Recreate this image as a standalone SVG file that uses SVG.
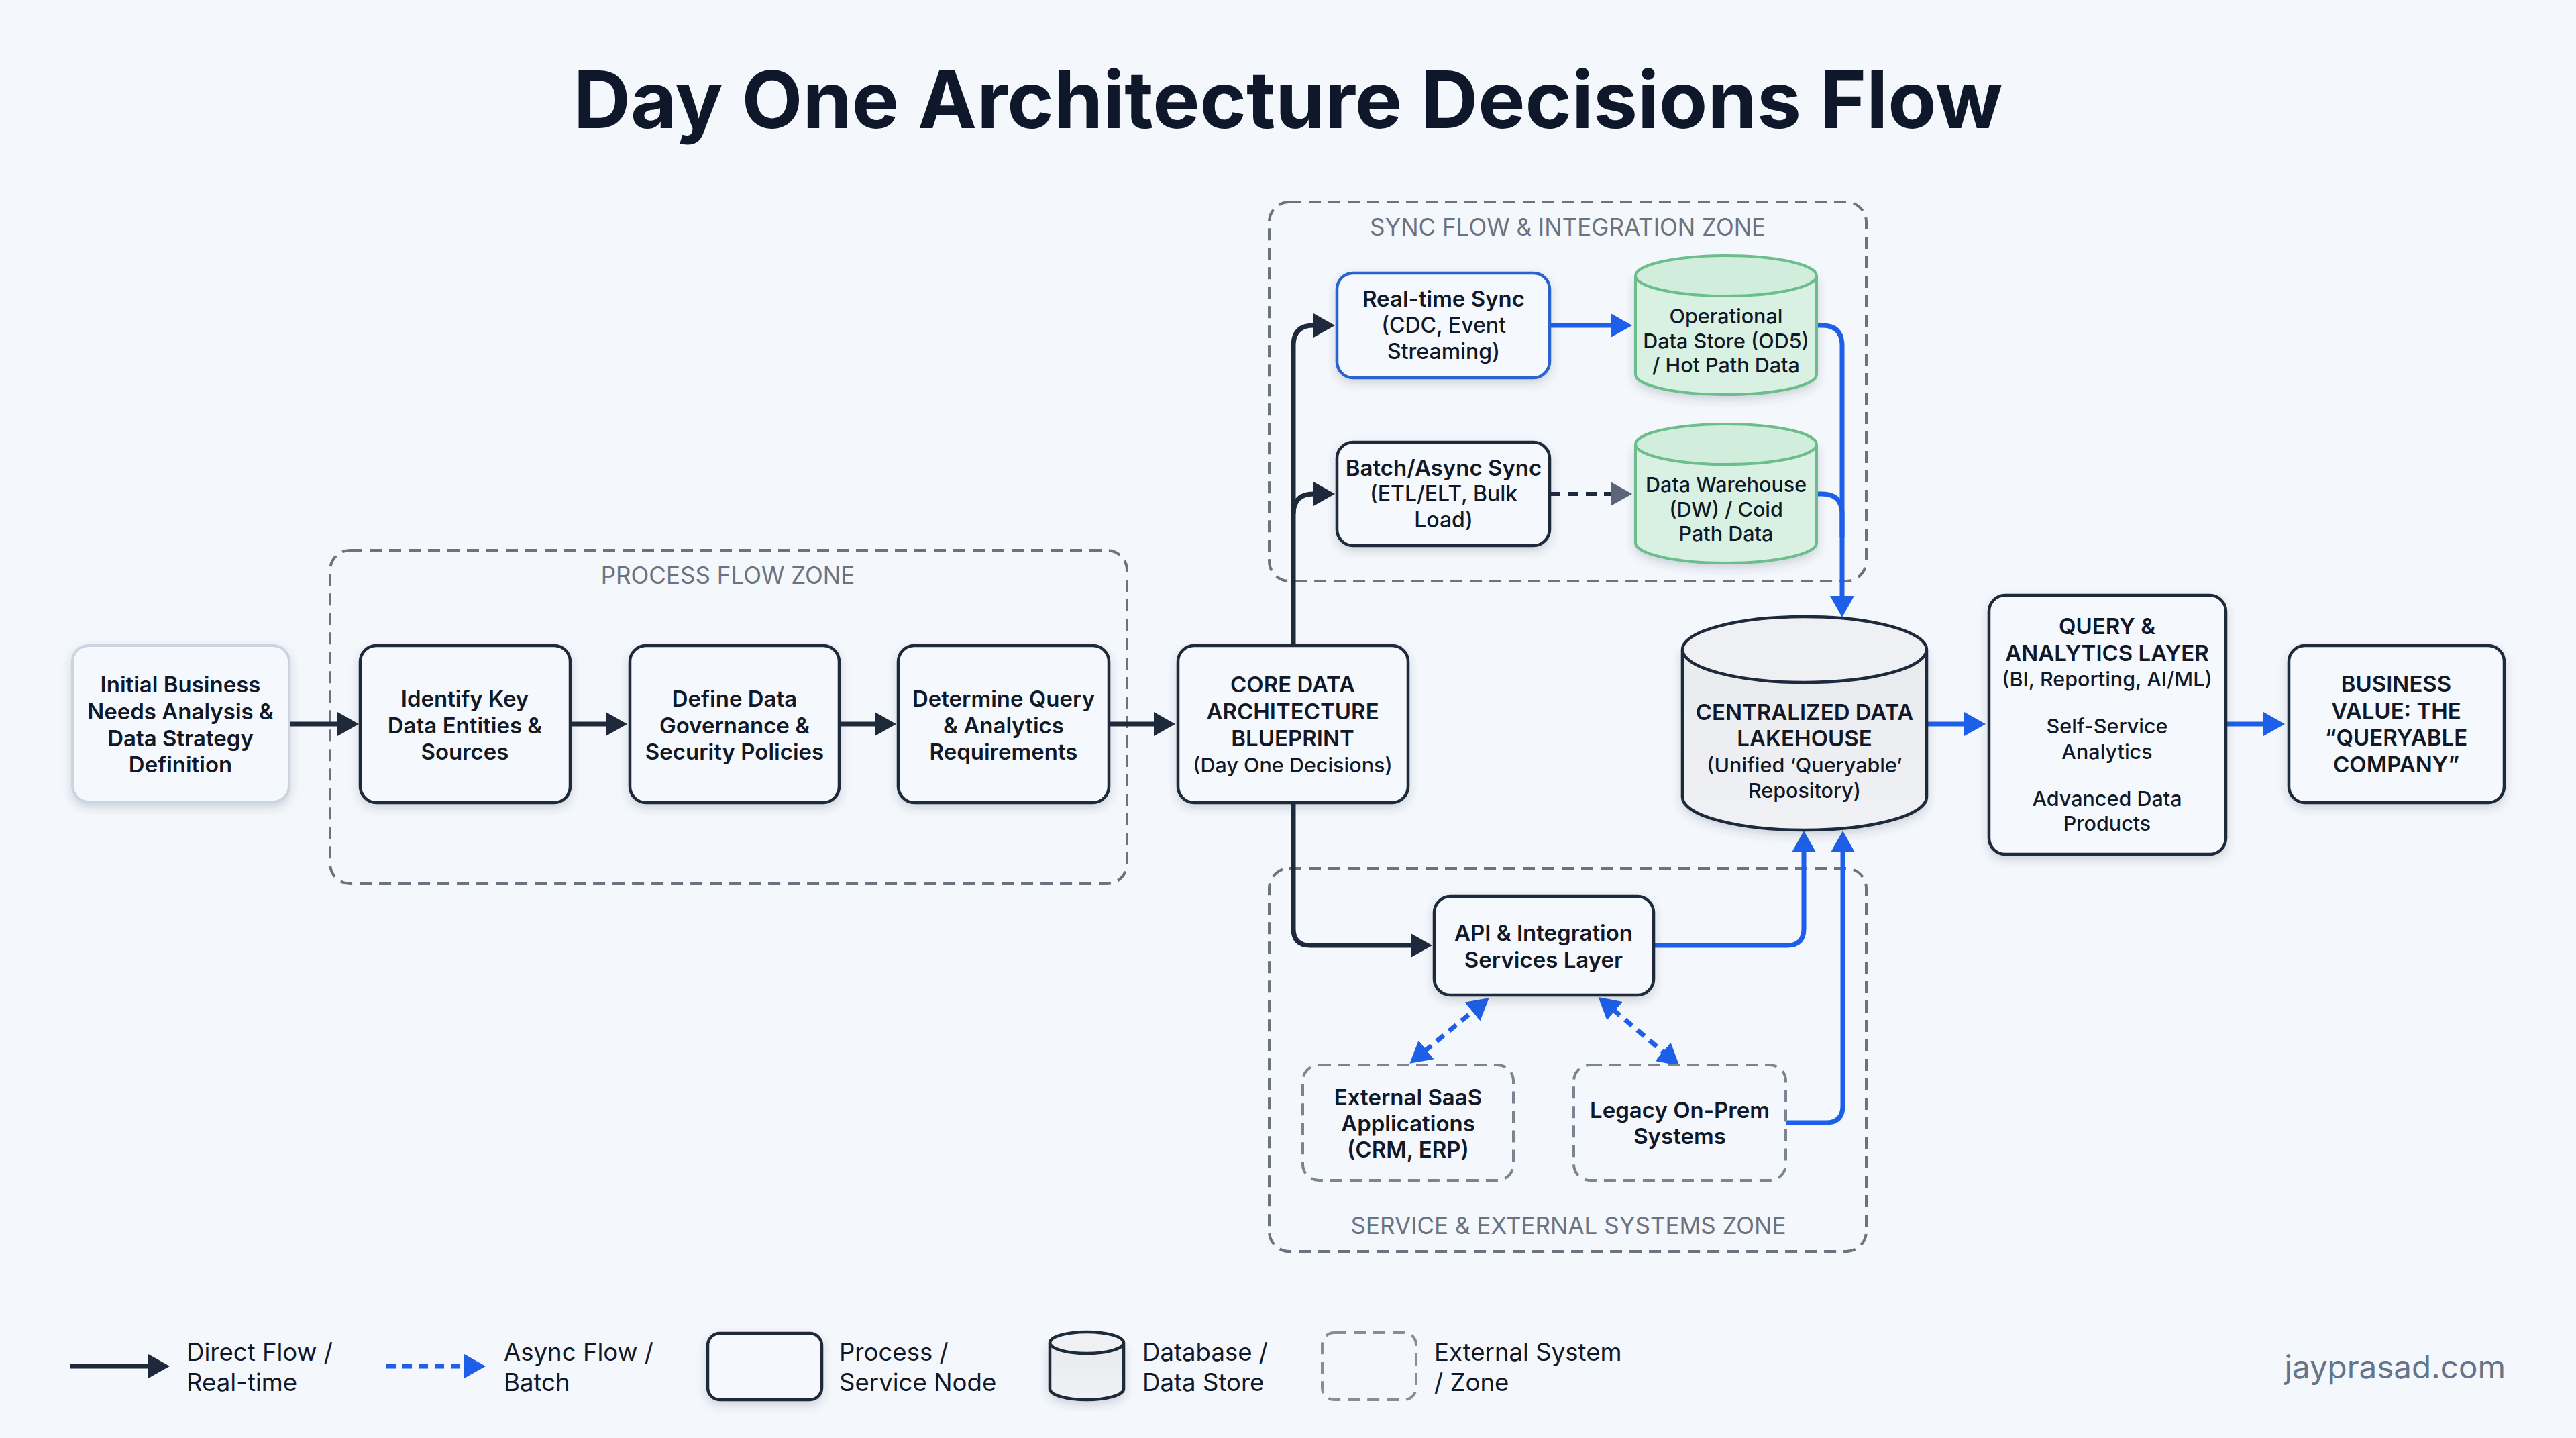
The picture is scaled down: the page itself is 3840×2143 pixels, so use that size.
<svg xmlns="http://www.w3.org/2000/svg" width="3840" height="2143" viewBox="0 0 3840 2143">
<style>
text{font-family:Inter,"Liberation Sans",sans-serif;text-anchor:middle;fill:#111827}
.b{font-size:33px;font-weight:600}
.m{font-size:32px;font-weight:500}
.c{font-size:30.5px;font-weight:500}
.s{font-size:30.5px;font-weight:500}
.zl{font-size:35px;font-weight:400;fill:#6b7280}
.lg{font-size:36.6px;font-weight:400;text-anchor:start}
.box{fill:#f5f8fc;stroke:#1e293b;stroke-width:4.5;filter:url(#sh)}
.zone{fill:none;stroke:#6b7280;stroke-width:4;stroke-dasharray:18 11}
.ext{fill:#f4f7fb;stroke:#7b8494;stroke-width:4;stroke-dasharray:18 11}
.gc{fill:#d8f1e2;stroke:#6cbd8c;stroke-width:4;filter:url(#sh)}
.gt{fill:#d1eedd;stroke:#6cbd8c;stroke-width:4}
.dc{fill:url(#lk);stroke:#1e293b;stroke-width:4.5;filter:url(#sh)}
.dt{fill:#eef0f3;stroke:#1e293b;stroke-width:4.5}
.k{fill:none;stroke:#1e293b;stroke-width:7}
.u{fill:none;stroke:#1d5fe8;stroke-width:7}
.ka{marker-end:url(#ak)}
.ua{marker-end:url(#au)}
</style>
<defs>
<filter id="sh" x="-15%" y="-15%" width="130%" height="135%"><feDropShadow dx="0" dy="6" stdDeviation="7" flood-color="#334155" flood-opacity="0.2"/></filter>
<linearGradient id="lk" x1="0" y1="0" x2="0" y2="1"><stop offset="0" stop-color="#e8ebee"/><stop offset="0.55" stop-color="#eceef2"/><stop offset="1" stop-color="#eff1f4"/></linearGradient>
<marker id="ak" markerUnits="userSpaceOnUse" viewBox="0 0 32 36" refX="4" refY="18" markerWidth="32" markerHeight="36" orient="auto-start-reverse"><path d="M0 0L32 18L0 36Z" fill="#1e293b"/></marker>
<marker id="au" markerUnits="userSpaceOnUse" viewBox="0 0 32 36" refX="4" refY="18" markerWidth="32" markerHeight="36" orient="auto-start-reverse"><path d="M0 0L32 18L0 36Z" fill="#1d5fe8"/></marker>
<marker id="ag" markerUnits="userSpaceOnUse" viewBox="0 0 32 36" refX="4" refY="18" markerWidth="32" markerHeight="36" orient="auto"><path d="M0 0L32 18L0 36Z" fill="#5b6577"/></marker>
</defs>
<rect width="3840" height="2143" fill="#f4f7fb"/>
<text id="title" x="1920" y="191" style="font-size:118px;font-weight:700;fill:#0f172a">Day One Architecture Decisions Flow</text>

<g id="zones">
<g id="zone-process"><rect class="zone" x="492" y="820" width="1188" height="497" rx="30"/><text class="zl" x="1085" y="870">PROCESS FLOW ZONE</text></g>
<g id="zone-sync"><rect class="zone" x="1892" y="301" width="890" height="565" rx="30"/><text class="zl" x="2337" y="351">SYNC FLOW &amp; INTEGRATION ZONE</text></g>
<g id="zone-service"><rect class="zone" x="1892" y="1294" width="890" height="571" rx="30"/><text class="zl" x="2338" y="1839">SERVICE &amp; EXTERNAL SYSTEMS ZONE</text></g>
</g>

<g id="connectors">
<path class="k ka" d="M431 1079H507"/>
<path class="k ka" d="M850 1079H907"/>
<path class="k ka" d="M1251 1079H1308"/>
<path class="k ka" d="M1653 1079H1724"/>
<path class="k ka" d="M1928 962V515Q1928 485 1958 485H1962"/>
<path class="k ka" d="M1928 766Q1928 736 1958 736H1962"/>
<path class="k ka" d="M1928 1196V1384Q1928 1409 1953 1409H2107"/>
<path class="u ua" d="M2310 485H2405"/>
<path class="k" d="M2310 736H2405" style="stroke-width:6" stroke-dasharray="16 11" marker-end="url(#ag)"/>
<path class="u ua" d="M2708 485H2716Q2746 485 2746 515V892"/>
<path class="u" d="M2708 736H2716Q2746 736 2746 766V800"/>
<path class="u ua" d="M2872 1079H2932"/>
<path class="u ua" d="M3318 1079H3378"/>
<path class="u ua" d="M2465 1409H2664Q2689 1409 2689 1384V1266"/>
<path class="u ua" d="M2662 1673H2722Q2747 1673 2747 1648V1266"/>
<path class="u" d="M2123 1567L2198 1505" stroke-dasharray="14 10" marker-start="url(#au)" marker-end="url(#au)"/>
<path class="u" d="M2404 1504L2482 1570" stroke-dasharray="14 10" marker-start="url(#au)" marker-end="url(#au)"/>
</g>

<g id="n-initial"><rect class="box" x="108" y="962" width="323" height="233" rx="24" style="stroke:#cbd5e1;stroke-width:4"/><text class="b"><tspan x="269" y="1032">Initial Business</tspan><tspan x="269" y="1072">Needs Analysis &amp;</tspan><tspan x="269" y="1112">Data Strategy</tspan><tspan x="269" y="1151">Definition</tspan></text></g>
<g id="n-identify"><rect class="box" x="537" y="962" width="313" height="234" rx="24"/><text class="b"><tspan x="693" y="1053">Identify Key</tspan><tspan x="693" y="1093">Data Entities &amp;</tspan><tspan x="693" y="1132">Sources</tspan></text></g>
<g id="n-define"><rect class="box" x="939" y="962" width="312" height="234" rx="24"/><text class="b"><tspan x="1095" y="1053">Define Data</tspan><tspan x="1095" y="1093">Governance &amp;</tspan><tspan x="1095" y="1132">Security Policies</tspan></text></g>
<g id="n-determine"><rect class="box" x="1339" y="962" width="314" height="234" rx="24"/><text class="b"><tspan x="1496" y="1053">Determine Query</tspan><tspan x="1496" y="1093">&amp; Analytics</tspan><tspan x="1496" y="1132">Requirements</tspan></text></g>
<g id="n-core"><rect class="box" x="1756" y="962" width="343" height="234" rx="24"/><text class="b"><tspan x="1927" y="1032">CORE DATA</tspan><tspan x="1927" y="1072">ARCHITECTURE</tspan><tspan x="1927" y="1112">BLUEPRINT</tspan><tspan class="c" x="1927" y="1151">(Day One Decisions)</tspan></text></g>
<g id="n-realtime"><rect class="box" x="1993" y="407" width="317" height="156" rx="24" style="stroke:#2b63d0"/><text class="b"><tspan x="2152" y="457">Real-time Sync</tspan><tspan class="m" x="2152" y="496">(CDC, Event</tspan><tspan class="m" x="2152" y="535">Streaming)</tspan></text></g>
<g id="n-batch"><rect class="box" x="1993" y="659" width="317" height="154" rx="24"/><text class="b"><tspan x="2152" y="709">Batch/Async Sync</tspan><tspan class="m" x="2152" y="747">(ETL/ELT, Bulk</tspan><tspan class="m" x="2152" y="786">Load)</tspan></text></g>
<g id="n-ods"><path class="gc" d="M2438 411V558A135 30 0 0 0 2708 558V411"/><ellipse class="gt" cx="2573" cy="411" rx="135" ry="30"/><text class="s"><tspan x="2573" y="482">Operational</tspan><tspan x="2573" y="519">Data Store (OD5)</tspan><tspan x="2573" y="555">/ Hot Path Data</tspan></text></g>
<g id="n-dw"><path class="gc" d="M2438 662V809A135 30 0 0 0 2708 809V662"/><ellipse class="gt" cx="2573" cy="662" rx="135" ry="30"/><text class="s"><tspan x="2573" y="733">Data Warehouse</tspan><tspan x="2573" y="770">(DW) / Coid</tspan><tspan x="2573" y="806">Path Data</tspan></text></g>
<g id="n-lakehouse"><path class="dc" d="M2508 968V1188A182 49 0 0 0 2872 1188V968"/><ellipse class="dt" cx="2690" cy="968" rx="182" ry="49"/><text class="b"><tspan x="2690" y="1073">CENTRALIZED DATA</tspan><tspan x="2690" y="1112">LAKEHOUSE</tspan><tspan class="c" x="2690" y="1151">(Unified ‘Queryable’</tspan><tspan class="c" x="2690" y="1189">Repository)</tspan></text></g>
<g id="n-query"><rect class="box" x="2965" y="887" width="353" height="386" rx="24"/><text class="b"><tspan x="3141" y="945">QUERY &amp;</tspan><tspan x="3141" y="985">ANALYTICS LAYER</tspan><tspan class="c" x="3141" y="1023">(BI, Reporting, AI/ML)</tspan><tspan class="c" x="3141" y="1093">Self-Service</tspan><tspan class="c" x="3141" y="1131">Analytics</tspan><tspan class="c" x="3141" y="1201">Advanced Data</tspan><tspan class="c" x="3141" y="1238">Products</tspan></text></g>
<g id="n-business"><rect class="box" x="3412" y="962" width="321" height="234" rx="24"/><text class="b"><tspan x="3572" y="1031">BUSINESS</tspan><tspan x="3572" y="1071">VALUE: THE</tspan><tspan x="3572" y="1111">“QUERYABLE</tspan><tspan x="3572" y="1151">COMPANY”</tspan></text></g>
<g id="n-api"><rect class="box" x="2138" y="1336" width="327" height="147" rx="24"/><text class="b"><tspan x="2301" y="1402">API &amp; Integration</tspan><tspan x="2301" y="1442">Services Layer</tspan></text></g>
<g id="n-saas"><rect class="ext" x="1942" y="1587" width="314" height="172" rx="24"/><text class="b"><tspan x="2099" y="1647">External SaaS</tspan><tspan x="2099" y="1686">Applications</tspan><tspan x="2099" y="1725">(CRM, ERP)</tspan></text></g>
<g id="n-legacy"><rect class="ext" x="2346" y="1587" width="316" height="172" rx="24"/><text class="b"><tspan x="2504" y="1666">Legacy On-Prem</tspan><tspan x="2504" y="1705">Systems</tspan></text></g>

<g id="legend">
<path class="k ka" d="M104 2036H225"/>
<text class="lg"><tspan x="278" y="2028">Direct Flow /</tspan><tspan x="278" y="2073">Real-time</tspan></text>
<path class="u ua" d="M576 2036H696" stroke-dasharray="14 10"/>
<text class="lg"><tspan x="751" y="2028">Async Flow /</tspan><tspan x="751" y="2073">Batch</tspan></text>
<rect class="box" x="1055" y="1987" width="170" height="99" rx="18"/>
<text class="lg"><tspan x="1251" y="2028">Process /</tspan><tspan x="1251" y="2073">Service Node</tspan></text>
<path class="dc" d="M1565 2001V2070A55 16 0 0 0 1675 2070V2001"/><ellipse class="dt" cx="1620" cy="2001" rx="55" ry="16"/>
<text class="lg"><tspan x="1703" y="2028">Database /</tspan><tspan x="1703" y="2073">Data Store</tspan></text>
<rect class="zone" x="1971" y="1986" width="140" height="100" rx="18" style="stroke-opacity:.8"/>
<text class="lg"><tspan x="2138" y="2028">External System</tspan><tspan x="2138" y="2073">/ Zone</tspan></text>
</g>
<text id="credit" x="3735" y="2054" style="font-size:47.5px;font-weight:400;text-anchor:end;fill:#64748b">jayprasad.com</text>
</svg>
